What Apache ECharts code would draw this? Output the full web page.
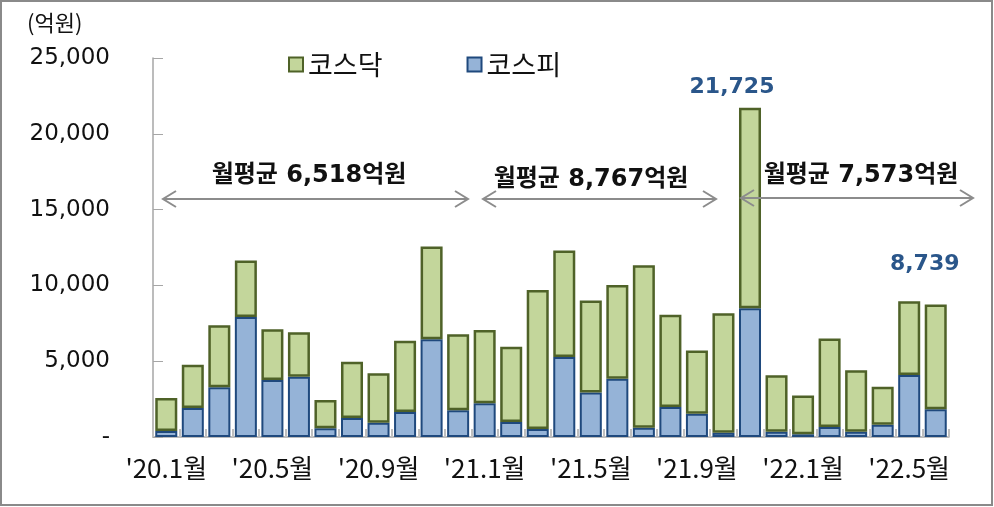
<!DOCTYPE html>
<html>
<head>
<meta charset="utf-8">
<script src="https://cdn.jsdelivr.net/npm/echarts@6/dist/echarts.min.js"></script>
<style>
  html, body { margin: 0; padding: 0; background: #fff; }
  #chart { width: 994px; height: 507px; }
</style>
</head>
<body>
<div id="chart"></div>
<script>
const months = [
  "'20.1월", "'20.2월", "'20.3월", "'20.4월", "'20.5월", "'20.6월",
  "'20.7월", "'20.8월", "'20.9월", "'20.10월", "'20.11월", "'20.12월",
  "'21.1월", "'21.2월", "'21.3월", "'21.4월", "'21.5월", "'21.6월",
  "'21.7월", "'21.8월", "'21.9월", "'21.10월", "'21.11월", "'21.12월",
  "'22.1월", "'22.2월", "'22.3월", "'22.4월", "'22.5월", "'22.6월"
];

// 코스피 (bottom, blue)
const kospi = [
  400, 1910, 3280, 7920, 3760, 3980, 570, 1250, 940, 1650, 6450, 1760,
  2220, 990, 530, 5280, 2930, 3850, 610, 1980, 1540, 280,
  8490, 350, 180, 660, 350, 810, 4090, 1830
];

// 코스닥 (top, green)
const kosdaq = [
  2180, 2860, 4090, 3720, 3350, 2930, 1870, 3720, 3260, 4700, 6110, 5020,
  4840, 4970, 9170, 7020, 6070, 6180, 10720, 6090, 4160, 7880,
  13235, 3720, 2550, 5830, 4050, 2510, 4870, 6909
];

// 합계 라벨 (index -> text)
const totalLabels = { 22: '21,725', 29: '8,739' };

const KR = '"Noto Sans CJK KR", "Noto Sans", sans-serif';
const NUM = '"DejaVu Sans", "Noto Sans CJK KR", sans-serif';
const labelColor = '#2a568a';
const arrowColor = '#8c8c8c';

function arrow(x1, x2, y) {
  const st = { stroke: arrowColor, lineWidth: 2, fill: null };
  return [
    { type: 'line', z: 100, shape: { x1, y1: y, x2, y2: y }, style: st },
    { type: 'polyline', z: 100, shape: { points: [[x1 + 13, y - 8], [x1, y], [x1 + 13, y + 8]] }, style: st },
    { type: 'polyline', z: 100, shape: { points: [[x2 - 13, y - 8], [x2, y], [x2 - 13, y + 8]] }, style: st }
  ];
}

function note(text, cx, cy) {
  return {
    type: 'text',
    z: 100,
    x: cx, y: cy,
    style: { text, fill: '#111', font: 'bold 24px ' + NUM, textAlign: 'center', textVerticalAlign: 'middle' }
  };
}

const chart = echarts.init(document.getElementById('chart'));

const kosdaqData = kosdaq.map((v, i) => {
  if (totalLabels[i] == null) return v;
  return {
    value: v,
    label: {
      show: true,
      position: 'top',
      formatter: totalLabels[i],
      offset: i === 29 ? [-11, -24] : [-18, -4]
    }
  };
});

chart.setOption({
  animation: false,
  textStyle: { fontFamily: KR },
  grid: { left: 153, right: 45, top: 58, bottom: 70 },
  legend: {
    left: 283,
    top: 46,
    icon: 'rect',
    itemWidth: 14,
    itemHeight: 14,
    itemGap: 84,
    textStyle: { fontSize: 27, color: '#111', fontFamily: KR },
    data: ['코스닥', '코스피']
  },
  xAxis: {
    type: 'category',
    data: months,
    axisLine: { lineStyle: { color: '#a6a6a6', width: 1.5 } },
    axisTick: { show: true, inside: true, length: 8, interval: 0, lineStyle: { color: '#bfbfbf', width: 2 } },
    axisLabel: { interval: 3, fontSize: 26, color: '#111', margin: 18, fontFamily: KR }
  },
  yAxis: {
    type: 'value',
    min: 0,
    max: 25000,
    interval: 5000,
    splitLine: { show: false },
    axisLine: { show: true, lineStyle: { color: '#a6a6a6', width: 1.5 } },
    axisTick: { show: true, inside: true, length: 10, lineStyle: { color: '#a6a6a6' } },
    axisLabel: {
      fontSize: 23,
      color: '#111',
      margin: 43,
      fontFamily: NUM,
      formatter: (v) => (v === 0 ? '-' : v.toLocaleString('en-US'))
    }
  },
  series: [
    {
      name: '코스피',
      type: 'bar',
      stack: 'total',
      barCategoryGap: '17%',
      data: kospi,
      itemStyle: { color: '#95b3d7', borderColor: '#1f497d', borderWidth: 2 }
    },
    {
      name: '코스닥',
      type: 'bar',
      stack: 'total',
      barCategoryGap: '17%',
      data: kosdaqData,
      itemStyle: { color: '#c3d69b', borderColor: '#4f6228', borderWidth: 2.5 },
      label: { fontSize: 22, fontWeight: 'bold', color: labelColor, fontFamily: NUM }
    }
  ],
  graphic: [
    { type: 'rect', shape: { x: 1, y: 1, width: 991, height: 504 }, style: { stroke: '#8a8a8a', lineWidth: 2, fill: null } },
    { type: 'text', x: 27, y: 23, style: { text: '(억원)', fill: '#111', font: '22px ' + KR, textVerticalAlign: 'middle' } },
    ...arrow(163, 468, 199),
    ...arrow(483, 716, 199),
    ...arrow(741, 973, 198),
    note('월평균 6,518억원', 309, 176),
    note('월평균 8,767억원', 591, 180),
    note('월평균 7,573억원', 861, 176)
  ]
});
</script>
</body>
</html>
